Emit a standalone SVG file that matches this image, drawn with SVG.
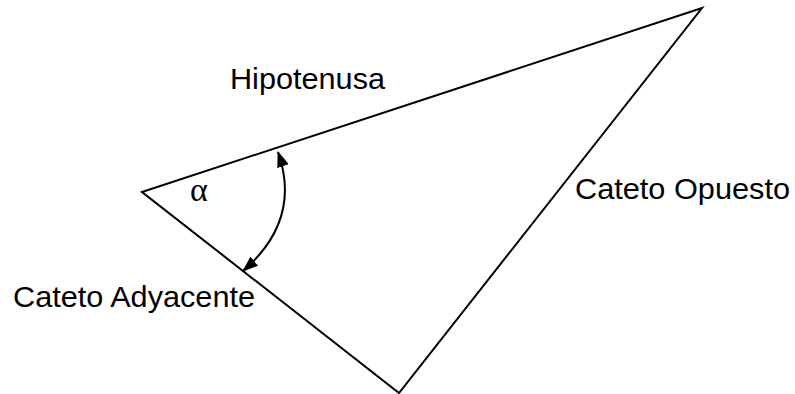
<svg xmlns="http://www.w3.org/2000/svg" width="795" height="394" viewBox="0 0 795 394">
<style>
.t{font-family:"Liberation Sans",Arial,sans-serif;font-size:29px;fill:#000}
.l{stroke:#000;stroke-width:2;fill:none}
</style>
<defs>
<marker id="ah" viewBox="0 0 16 12" refX="15" refY="6" markerWidth="16" markerHeight="12" orient="auto-start-reverse" markerUnits="userSpaceOnUse">
<path d="M0,0 L16,6 L0,12 z" fill="#000"/>
</marker>
</defs>
<rect width="795" height="394" fill="#fff"/>
<g id="triangle">
<polygon class="l" points="142,192 702,8 399,393"/>
</g>
<g id="connectors">
<path class="l" d="M278,152 Q302,220 243,271" marker-start="url(#ah)" marker-end="url(#ah)"/>
</g>
<g id="labels">
<text class="t" x="230" y="89" textLength="155" lengthAdjust="spacingAndGlyphs">Hipotenusa</text>
<text class="t" x="575" y="199" textLength="215" lengthAdjust="spacingAndGlyphs">Cateto Opuesto</text>
<text class="t" x="13" y="307" textLength="242" lengthAdjust="spacingAndGlyphs">Cateto Adyacente</text>
<text x="190" y="201" font-family="'Liberation Serif',serif" font-size="34">α</text>
</g>
</svg>
